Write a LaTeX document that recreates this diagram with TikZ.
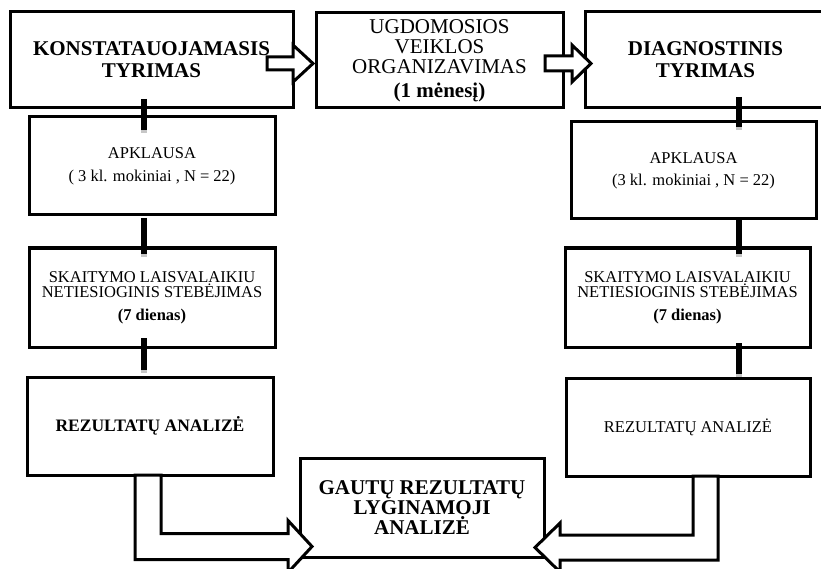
\documentclass[tikz,border=0pt]{standalone}
\usepackage{fontspec}
\setmainfont{Liberation Serif}
\usetikzlibrary{calc}
\begin{document}
\begin{tikzpicture}[x=1pt,y=-1pt,
  box/.style={draw=black, line width=3pt, fill=white, align=center,
    inner sep=0pt, outer sep=0pt, text=black},
  bigb/.style={font=\fontsize{21}{22}\selectfont\bfseries},
  bigr/.style={font=\fontsize{21}{20}\selectfont},
  smallr/.style={font=\fontsize{16.5}{15}\selectfont},
  smallb/.style={font=\fontsize{17.5}{15}\selectfont\bfseries},
  link/.style={line width=6pt, black},
  linkend/.style={line width=6pt, gray!45},
  blockarrow/.style={draw=black, line width=3pt, fill=white, line join=miter}
]
\useasboundingbox (0,0) rectangle (821,569);

% top row
\node[box, bigb, minimum width=283pt, minimum height=96pt] (b1) at (151.5,60)
  {KONSTATAUOJAMASIS\\TYRIMAS};
\node[box, bigr, minimum width=247pt, minimum height=95pt] (b2) at (439.5,60.5)
  {UGDOMOSIOS\\VEIKLOS\\ORGANIZAVIMAS\\[4pt]\textbf{(1 mėnesį)}};
\node[box, bigb, minimum width=241pt, minimum height=96pt] (b3) at (705.5,60)
  {DIAGNOSTINIS\\TYRIMAS};

% left column
\node[box, smallr, minimum width=246pt, minimum height=98pt] (apL) at (152,166)
  {APKLAUSA\\[8pt]( 3 kl. mokiniai , N = 22)};
\node[box, smallr, minimum width=246pt, minimum height=99pt] (skL) at (152,297.5)
  {SKAITYMO LAISVALAIKIU\\NETIESIOGINIS STEBĖJIMAS\\[8pt]\textbf{(7 dienas)}};
\node[box, smallb, minimum width=246pt, minimum height=98pt] (rzL) at (150,426)
  {REZULTATŲ ANALIZĖ};

% right column
\node[box, smallr, minimum width=245pt, minimum height=97pt] (apR) at (693.5,170.5)
  {APKLAUSA\\[7pt](3 kl. mokiniai , N = 22)};
\node[box, smallr, minimum width=245pt, minimum height=99pt] (skR) at (687.5,297.5)
  {SKAITYMO LAISVALAIKIU\\NETIESIOGINIS STEBĖJIMAS\\[8pt]\textbf{(7 dienas)}};
\node[box, smallr, minimum width=244pt, minimum height=98pt] (rzR) at (688,427)
  {REZULTATŲ ANALIZĖ};

% comparison box
\node[box, bigb, font=\fontsize{21}{20}\selectfont\bfseries,
  minimum width=244pt, minimum height=99pt] (ga) at (422,507.5)
  {GAUTŲ REZULTATŲ\\LYGINAMOJI\\ANALIZĖ};

% vertical links between the boxes of each column
\coordinate (xL) at (144,0);
\coordinate (xR) at (739,0);
\coordinate (l1a) at ($(b1.south -| xL)+(0,-9)$);
\coordinate (l1b) at ($(apL.north -| xL)+(0,16)$);
\coordinate (l2a) at ($(apL.south -| xL)+(0,3)$);
\coordinate (l2b) at ($(skL.north -| xL)+(0,9)$);
\coordinate (l3a) at ($(skL.south -| xL)+(0,-9)$);
\coordinate (l3b) at ($(rzL.north -| xL)+(0,-4)$);
\coordinate (r1a) at ($(b3.south -| xR)+(0,-11)$);
\coordinate (r1b) at ($(apR.north -| xR)+(0,8)$);
\coordinate (r2a) at ($(apR.south -| xR)+(0,0)$);
\coordinate (r2b) at ($(skR.north -| xR)+(0,9)$);
\coordinate (r3a) at ($(skR.south -| xR)+(0,-4)$);
\coordinate (r3b) at ($(rzR.north -| xR)+(0,-1)$);
\foreach \s/\e in {l1a/l1b, l2a/l2b, l3a/l3b, r1a/r1b, r2a/r2b, r3a/r3b}{
  \draw[link] (\s) -- (\e);
  \draw[linkend] ($(\e)+(0,-3)$) -- (\e);
}

% block arrows along the top row
\coordinate (t1) at ($(b2.west)+(-3,3)$);
\coordinate (t2) at ($(b3.west)+(6,3.5)$);
\draw[blockarrow] let \p1=(t1) in
  ({\x1-46pt},{\y1+6.5pt}) -- ({\x1-20pt},{\y1+6.5pt}) -- ({\x1-20pt},{\y1+18.5pt})
  -- (\x1,\y1) -- ({\x1-20pt},{\y1-18.5pt}) -- ({\x1-20pt},{\y1-6.5pt})
  -- ({\x1-46pt},{\y1-6.5pt}) -- cycle;
\draw[blockarrow] let \p1=(t2) in
  ({\x1-46pt},{\y1+7.5pt}) -- ({\x1-19pt},{\y1+7.5pt}) -- ({\x1-19pt},{\y1+18.5pt})
  -- (\x1,\y1) -- ({\x1-19pt},{\y1-18.5pt}) -- ({\x1-19pt},{\y1-7.5pt})
  -- ({\x1-46pt},{\y1-7.5pt}) -- cycle;

% bent block arrows into the comparison box
\coordinate (aL) at (148,0);
\coordinate (aR) at (705.5,0);
\coordinate (tL) at ($(ga.west)+(12,39)$);
\coordinate (tR) at ($(ga.east)+(-9,40)$);
\draw[blockarrow] let \p1=(rzL.south -| aL), \p2=(tL) in
  ({\x1-13pt},\y1) -- ({\x1+13pt},\y1) -- ({\x1+13pt},{\y2+13pt})
  -- ({\x2-24pt},{\y2+13pt}) -- ({\x2-24pt},{\y2+26pt}) -- (\p2)
  -- ({\x2-24pt},{\y2-26pt}) -- ({\x2-24pt},{\y2-13pt})
  -- ({\x1-13pt},{\y2-13pt}) -- cycle;
\draw[blockarrow] let \p1=(rzR.south -| aR), \p2=(tR) in
  ({\x1+12.5pt},\y1) -- ({\x1-12.5pt},\y1) -- ({\x1-12.5pt},{\y2+12.5pt})
  -- ({\x2+25pt},{\y2+12.5pt}) -- ({\x2+25pt},{\y2+24.5pt}) -- (\p2)
  -- ({\x2+25pt},{\y2-24.5pt}) -- ({\x2+25pt},{\y2-12.5pt})
  -- ({\x1+12.5pt},{\y2-12.5pt}) -- cycle;
\end{tikzpicture}
\end{document}
